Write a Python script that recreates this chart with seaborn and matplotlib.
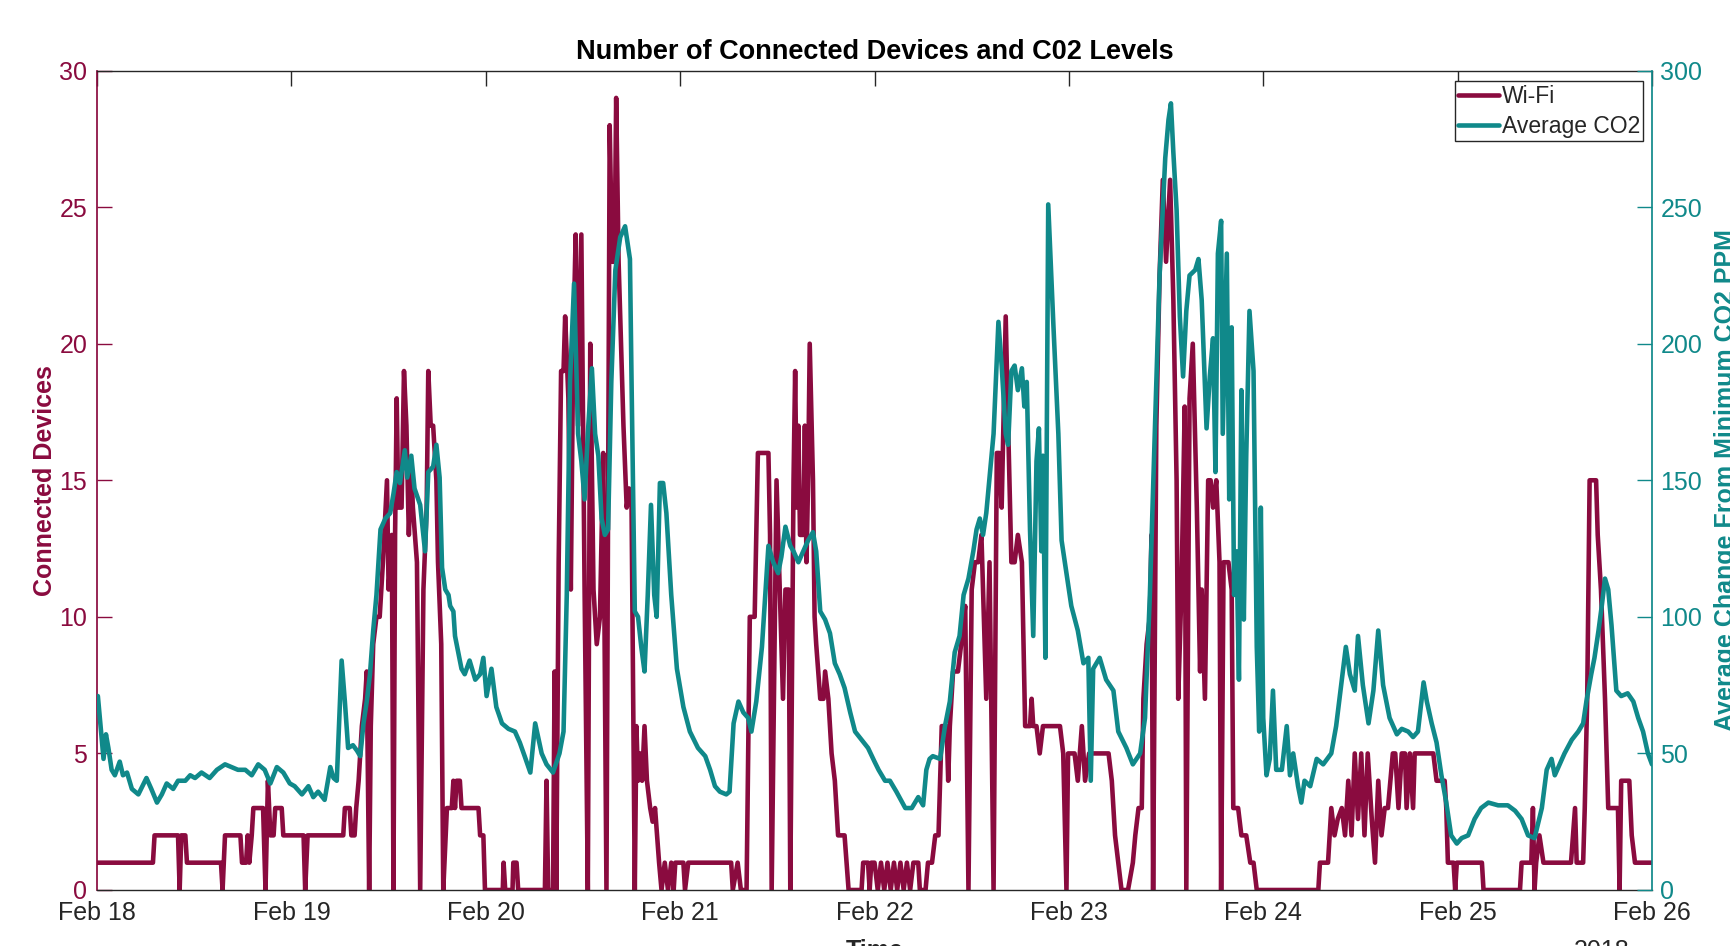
import seaborn as sns
import pandas as pd
import matplotlib.pyplot as plt
import matplotlib.dates as mdates
from matplotlib.lines import Line2D

# -----------------------------
# DATA (hours after Feb 18 00:00)
# -----------------------------
wifi_hours = [
    0, 6.9, 7.1, 10.0, 10.2, 10.4, 10.9, 11.1, 15.3, 15.5, 15.8, 17.7, 17.9, 18.4, 18.6, 18.8,
    19.1, 19.3, 20.5, 20.8, 21.1, 21.4, 21.8, 22.0, 22.8, 23.0, 25.5, 25.7, 26.0, 30.4, 30.6,
    31.2, 31.4, 31.8, 32.0, 32.3, 32.7, 33.1, 33.3, 33.6, 33.8, 34.1, 34.5, 34.9, 35.3, 35.8,
    36.0, 36.4, 36.6, 36.8, 37.0, 37.2, 37.6, 37.9, 38.2, 38.5, 38.8, 39.0, 39.5, 39.9, 40.3,
    40.7, 40.9, 41.2, 41.5, 41.9, 42.1, 42.5, 42.75, 43.2, 43.8, 44.0, 44.2, 44.4, 44.8, 45.0,
    47.1, 47.3, 47.7, 47.9, 50.1, 50.2, 50.4, 51.3, 51.4, 51.8, 52.0, 55.3, 55.5, 55.7, 56.3,
    56.5, 56.7, 57.0, 57.3, 57.6, 57.8, 58.2, 58.5, 58.8, 59.1, 59.4, 59.8, 60.2, 60.6, 60.9,
    61.3, 61.7, 62.1, 62.5, 62.9, 63.3, 63.6, 63.9, 64.1, 64.4, 64.7, 65.0, 65.4, 65.7, 66.0,
    66.4, 66.6, 66.8, 67.1, 67.3, 67.6, 67.9, 68.3, 68.6, 68.9, 69.4, 69.7, 70.1, 70.5, 70.9,
    71.2, 71.4, 72.4, 72.6, 73.0, 78.3, 78.5, 79.1, 79.5, 80.2, 80.6, 81.2, 81.6, 82.9, 83.1,
    83.3, 83.9, 84.1, 84.5, 84.7, 85.0, 85.4, 85.6, 86.0, 86.2, 86.4, 86.6, 86.8, 87.2, 87.4,
    87.6, 87.8, 88.0, 88.4, 88.6, 88.8, 89.3, 89.7, 89.9, 90.3, 90.7, 91.1, 91.5, 92.3, 92.8,
    94.4, 94.6, 95.2, 95.4, 95.6, 96.0, 96.4, 96.8, 97.2, 97.6, 98.0, 98.4, 98.8, 99.2, 99.6,
    100.0, 100.4, 100.8, 101.4, 101.6, 102.3, 102.6, 103.1, 103.5, 103.9, 104.3, 104.9, 105.1,
    105.3, 105.7, 106.3, 106.7, 107.2, 107.6, 108.0, 108.4, 108.8, 109.2, 109.4, 109.8, 110.2,
    110.7, 111.1, 111.4, 111.7, 112.2, 112.5, 112.9, 113.3, 113.7, 114.2, 114.6, 115.2, 115.4,
    115.6, 116.0, 116.4, 116.8, 118.9, 119.3, 119.7, 119.9, 120.7, 121.1, 121.6, 122.0, 122.5,
    124.9, 125.3, 125.7, 126.1, 126.5, 127.3, 127.9, 128.2, 128.6, 129.0, 129.2, 129.6, 130.0,
    130.2, 130.4, 130.8, 131.2, 131.6, 132.0, 132.5, 132.9, 133.3, 133.5, 133.9, 134.3, 134.5,
    134.9, 135.3, 135.8, 136.2, 136.4, 136.8, 137.2, 137.5, 137.8, 138.2, 138.6, 138.8, 139.1,
    139.7, 140.1, 140.3, 140.9, 141.3, 141.9, 142.4, 142.8, 143.2, 150.8, 151.0, 152.0, 152.4,
    152.8, 153.2, 153.7, 154.1, 154.5, 154.9, 155.3, 155.7, 156.1, 156.5, 156.9, 157.4, 157.8,
    158.2, 158.6, 159.0, 159.4, 160.0, 160.3, 160.7, 161.1, 161.5, 161.7, 162.1, 162.5, 162.7,
    164.4, 165.0, 165.4, 166.4, 166.6, 166.8, 167.5, 167.7, 167.9, 171.0, 171.2, 175.7, 175.9,
    177.1, 177.3, 177.5, 177.7, 178.1, 178.6, 182.0, 182.5, 182.7, 183.5, 183.7, 184.0, 184.3,
    185.1, 185.3, 185.7, 186.2, 186.6, 187.8, 188.0, 188.2, 189.2, 189.5, 189.9, 192.0,
]
wifi_devices = [
    1, 1, 2, 2, 0, 2, 2, 1, 1, 0, 2, 2, 1, 1, 2, 1,
    2, 3, 3, 0, 4, 2, 2, 3, 3, 2, 2, 0, 2, 2, 3,
    3, 2, 2, 3, 4, 6, 7, 8, 0, 6, 9, 10, 10, 12, 15,
    11, 13, 0, 13, 18, 14, 14, 19, 17, 13, 15.5, 14, 12, 0, 11,
    14, 19, 17, 17, 15, 12, 9, 0, 3, 3, 4, 3, 4, 4, 3,
    3, 2, 2, 0, 0, 1, 0, 0, 1, 1, 0, 0, 4, 0, 0,
    8, 0, 12, 19, 19, 21, 18, 11, 20, 24, 17, 24, 11, 0, 20,
    11, 9, 10, 16, 0, 28, 23, 23, 29, 23, 20, 17, 14, 14.7, 14,
    0, 6, 4, 5, 4, 6, 4, 3, 2.5, 3, 1, 0, 1, 0, 1,
    0, 1, 1, 0, 1, 1, 0, 1, 0, 0, 10, 10, 16, 16, 13,
    0, 15, 13, 9, 7, 11, 11, 0, 15, 19, 14, 17, 13, 13, 17,
    12, 15, 20, 15, 10, 9, 7, 7, 8, 7, 5, 4, 2, 2, 0,
    0, 1, 1, 0, 1, 1, 0, 1, 0, 1, 0, 1, 0, 1, 0,
    1, 0, 1, 1, 0, 0, 1, 1, 2, 2, 6, 6, 4,
    6, 8, 8, 9, 10.4, 0, 11, 12, 12, 13, 11, 7, 12,
    0, 16, 16, 14, 21, 17, 12, 12, 13, 12, 6, 6, 7,
    6, 6, 5, 6, 6, 5, 0, 5, 5, 4, 6, 4, 5,
    5, 4, 2, 1, 0, 0, 1, 2, 3, 3, 7, 9, 10,
    13, 0, 17, 22.5, 26, 23, 26, 21.6, 15, 7, 11, 17.7, 0,
    18, 20, 14, 8, 11, 7, 15, 15, 14, 15, 12, 0, 12,
    12, 11, 3, 3, 2, 2, 1, 1, 0, 0, 1, 1, 3,
    2, 2.6, 3, 2, 4, 2, 5, 2.6, 5, 2, 5, 2.6, 1,
    4, 2, 3, 3, 5, 5, 3, 5, 5, 3, 5, 3, 5,
    5, 5, 4, 4, 3, 1, 1, 0, 1, 1, 0, 0, 1,
    1, 3, 0, 1, 2, 1, 1, 3, 1, 1, 3, 7, 15,
    15, 13, 11, 7, 3, 3, 0, 4, 4, 2, 1, 1,
]

co2_hours = [
    0.1, 0.8, 1.1, 1.4, 1.8, 2.2, 2.8, 3.2, 3.7, 4.3, 5.1, 6.1, 6.7, 7.4, 8.0, 8.6, 9.4, 10.0,
    10.9, 11.5, 12.1, 12.9, 13.9, 14.8, 15.8, 16.6, 17.4, 18.3, 19.1, 19.9, 20.7, 21.4, 22.2,
    23.0, 23.8, 24.4, 25.3, 26.1, 26.7, 27.3, 28.1, 28.8, 29.2, 29.6, 30.2, 30.6, 31.0, 31.6,
    32.1, 32.5, 32.9, 33.3, 33.7, 34.1, 34.5, 35.0, 35.6, 36.2, 36.6, 37.0, 37.4, 38.0, 38.3,
    38.8, 39.2, 39.9, 40.5, 40.9, 41.5, 41.9, 42.3, 42.6, 43.0, 43.4, 43.6, 44.0, 44.2, 44.6,
    45.0, 45.4, 46.0, 46.7, 47.3, 47.7, 48.1, 48.7, 49.3, 50.0, 50.8, 51.6, 52.2, 52.8, 53.5,
    54.1, 54.9, 55.5, 56.3, 57.1, 57.6, 58.0, 58.4, 58.9, 59.4, 59.8, 60.2, 60.6, 61.1, 61.5,
    61.9, 62.3, 62.7, 63.1, 63.5, 64.0, 64.6, 65.2, 65.8, 66.0, 66.4, 66.8, 67.2, 67.6, 68.0,
    68.4, 68.8, 69.1, 69.5, 69.9, 70.3, 70.9, 71.6, 72.4, 73.2, 74.2, 75.1, 75.7, 76.3, 76.9,
    77.7, 78.1, 78.6, 79.2, 79.8, 80.4, 80.8, 81.4, 82.1, 82.9, 83.5, 84.1, 84.5, 85.0, 85.6,
    86.0, 86.6, 87.2, 87.8, 88.4, 88.8, 89.3, 89.9, 90.5, 91.1, 91.7, 92.3, 93.0, 93.6, 94.4,
    95.2, 96.0, 96.5, 97.3, 97.9, 98.7, 99.8, 100.6, 101.4, 102.0, 102.4, 102.8, 103.2, 104.1,
    104.7, 105.3, 105.9, 106.5, 107.0, 107.6, 108.2, 108.6, 109.0, 109.4, 109.8, 110.7, 111.3,
    111.7, 112.2, 112.5, 112.9, 113.3, 113.7, 114.2, 114.5, 114.8, 115.2, 115.6, 116.0, 116.3,
    116.6, 116.8, 117.1, 117.45, 118.1, 118.7, 119.1, 119.7, 120.3, 121.1, 121.8, 122.4, 122.7,
    123.0, 123.8, 124.6, 125.5, 126.1, 127.1, 127.9, 128.8, 129.4, 130.0, 130.6, 131.2, 131.9,
    132.3, 132.6, 132.9, 133.3, 133.7, 134.1, 134.5, 134.9, 135.6, 136.0, 136.4, 137.0, 137.4,
    137.8, 138.1, 138.4, 138.8, 139.0, 139.5, 139.8, 140.1, 140.4, 140.7, 141.0, 141.3, 141.6,
    141.9, 142.3, 142.8, 143.2, 143.5, 143.7, 144.0, 144.4, 144.8, 145.2, 145.6, 146.3, 146.9,
    147.3, 147.7, 148.3, 148.7, 149.1, 149.8, 150.6, 151.4, 152.4, 153.0, 153.7, 154.2, 154.7,
    155.3, 155.7, 156.3, 157.0, 157.6, 158.2, 158.8, 159.6, 160.5, 161.1, 161.9, 162.5, 163.1,
    163.8, 164.2, 164.8, 165.4, 166.0, 166.6, 167.2, 167.9, 168.5, 169.3, 170.1, 170.9, 171.8,
    173.0, 174.2, 175.1, 175.9, 176.7, 177.5, 178.4, 179.0, 179.6, 180.0, 180.6, 181.2, 182.1,
    182.9, 183.5, 183.9, 184.5, 184.9, 185.4, 185.8, 186.2, 186.6, 187.0, 187.6, 188.2, 189.0,
    189.7, 190.3, 190.9, 191.5, 192.0,
]
co2_ppm = [
    71, 48, 57, 52, 44, 42, 47, 42, 43, 37, 35, 41, 37, 32, 35, 39, 37, 40,
    40, 42, 41, 43, 41, 44, 46, 45, 44, 44, 42, 46, 44, 39, 45,
    43, 39, 38, 35, 38, 34, 36, 33, 45, 41, 40, 84, 69, 52, 53,
    51, 49, 61, 69, 79, 95, 108, 132, 136, 138, 145, 153, 149, 161, 151,
    159, 147, 141, 124, 153, 155, 163, 151, 118, 110, 108, 104, 102, 93, 87,
    81, 79, 84, 77, 79, 85, 71, 81, 67, 61, 59, 58, 54, 49, 43,
    61, 50, 46, 43, 50, 58, 108, 186, 222, 167, 157, 143, 167, 191, 167,
    159, 136, 130, 132, 186, 227, 239, 243, 231, 186, 102, 100, 89, 80, 108,
    141, 108, 100, 149, 149, 138, 108, 81, 67, 58, 52, 49, 44, 38, 36,
    35, 36, 61, 69, 65, 63, 58, 69, 89, 126, 120, 116, 122, 133, 126,
    124, 120, 124, 128, 131, 124, 102, 99, 94, 83, 79, 74, 65, 58, 55,
    52, 47, 44, 40, 40, 36, 30, 30, 34, 31, 44, 48, 49, 48,
    60, 69, 87, 93, 108, 114, 124, 132, 136, 130, 138, 167, 208,
    192, 167, 163, 190, 192, 183, 191, 177, 186, 132, 93, 157, 169,
    124, 159, 85, 251, 206, 167, 128, 116, 104, 95, 83, 85, 40,
    81, 85, 77, 73, 58, 52, 46, 50, 63, 108, 167, 225, 268,
    282, 288, 270, 249, 210, 188, 212, 225, 227, 231, 216, 169, 188,
    202, 153, 233, 245, 167, 233, 143, 206, 108, 124, 77, 183, 99,
    159, 212, 190, 89, 58, 140, 63, 42, 48, 73, 44, 44, 60,
    42, 50, 38, 32, 40, 38, 48, 46, 50, 60, 77, 89, 79,
    73, 93, 75, 61, 73, 95, 75, 63, 57, 59, 58, 56, 58,
    76, 69, 61, 54, 42, 32, 20, 17, 19, 20, 26, 30, 32,
    31, 31, 29, 26, 20, 19, 30, 44, 48, 42, 46, 50, 55,
    58, 61, 69, 79, 85, 95, 104, 114, 110, 97, 73, 71, 72,
    69, 63, 58, 50, 46,
]

series_labels = ["Wi-Fi", "Average CO2"]
start = pd.Timestamp("2018-02-18")
day_ticks = pd.date_range("2018-02-18", "2018-02-26", freq="D")

wifi = pd.DataFrame({"time": start + pd.to_timedelta(wifi_hours, unit="h"),
                     "devices": wifi_devices})
co2 = pd.DataFrame({"time": start + pd.to_timedelta(co2_hours, unit="h"),
                    "ppm": co2_ppm})

# -----------------------------
# STYLE
# -----------------------------
maroon = "#8A0B3F"
teal = "#10898A"
dark = "#262626"
fs = 18

sns.set_theme(style="white")
plt.rcParams["font.family"] = ["Liberation Sans", "DejaVu Sans"]

fig = plt.figure(figsize=(17.3, 9.46), dpi=100)
ax = fig.add_axes([0.0561, 0.0592, 0.8988, 0.8662])
ax2 = ax.twinx()

sns.lineplot(data=wifi, x="time", y="devices", ax=ax, color=maroon, lw=3.3, legend=False)
sns.lineplot(data=co2, x="time", y="ppm", ax=ax2, color=teal, lw=3.3, legend=False)

ax.set_xlim(day_ticks[0], day_ticks[-1])
ax.set_ylim(0, 30)
ax2.set_ylim(0, 300)
ax.set_yticks(range(0, 31, 5))
ax2.set_yticks(range(0, 301, 50))
ax.set_xticks(day_ticks)
ax.xaxis.set_major_formatter(mdates.DateFormatter("%b %d"))

ax.tick_params(axis="x", direction="in", top=True, length=11, width=1,
               colors=dark, labelsize=fs, pad=8)
ax.tick_params(axis="y", direction="in", length=11, width=1, colors=maroon,
               labelsize=fs, pad=7)
ax2.tick_params(axis="y", direction="in", length=11, width=1, colors=teal,
                labelsize=fs, pad=6)

for side in ["top", "bottom"]:
    ax.spines[side].set_color(dark)
    ax.spines[side].set_linewidth(1)
ax.spines["left"].set_color(maroon)
ax.spines["right"].set_visible(False)
ax2.spines["left"].set_visible(False)
ax2.spines["top"].set_visible(False)
ax2.spines["bottom"].set_visible(False)
ax2.spines["right"].set_color(teal)

ax.set_xlabel("Time", fontsize=fs, fontweight="bold", color=dark)
ax.xaxis.set_label_coords(0.5, -0.060)
ax.set_ylabel("Connected Devices", fontsize=fs, fontweight="bold", color=maroon)
ax.yaxis.set_label_coords(-0.026, 0.5)
ax2.set_ylabel("Average Change From Minimum CO2 PPM", fontsize=fs,
               fontweight="bold", color=teal)
ax2.yaxis.set_label_coords(1.040, 0.5)
ax.set_title("Number of Connected Devices and C02 Levels", fontsize=19.5,
             fontweight="bold", color="black", pad=8)

fig.text(1602 / 1730, 0.0074, "2018", ha="center", va="top", fontsize=fs, color=dark)

handles = [Line2D([], [], color=maroon, lw=3.3), Line2D([], [], color=teal, lw=3.3)]
leg = ax2.legend(handles, series_labels, loc="upper right", bbox_to_anchor=(0.9945, 0.987),
                 fontsize=16.5, frameon=True, fancybox=False, framealpha=1,
                 edgecolor=dark, borderpad=0.15, labelspacing=0.3,
                 handlelength=1.8, handletextpad=0.1, borderaxespad=0)
leg.get_frame().set_linewidth(1)

fig.savefig("out.png", dpi=100)
